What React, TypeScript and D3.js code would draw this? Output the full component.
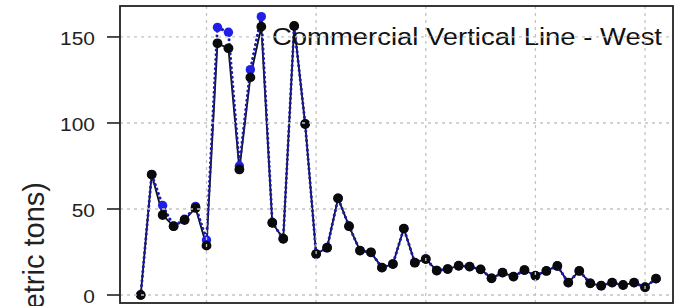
import React from "react";
import * as d3 from "d3";

const years = [1954, 1955, 1956, 1957, 1958, 1959, 1960, 1961, 1962, 1963, 1964, 1965, 1966, 1967, 1968, 1969, 1970, 1971, 1972, 1973, 1974, 1975, 1976, 1977, 1978, 1979, 1980, 1981, 1982, 1983, 1984, 1985, 1986, 1987, 1988, 1989, 1990, 1991, 1992, 1993, 1994, 1995, 1996, 1997, 1998, 1999, 2000, 2001];
const blackSeries = [0, 70, 46.5, 40, 43.6, 50.6, 28.7, 146.3, 143.4, 73, 126.5, 156, 42, 32.7, 156.4, 99.4, 23.8, 27.5, 56.2, 40, 25.8, 24.8, 15.9, 18, 38.6, 18.8, 20.9, 14.2, 15.1, 17, 16.5, 14.9, 9.7, 13, 10.7, 14.5, 11.2, 14, 16.9, 7.2, 14, 6.8, 5.4, 7.2, 5.8, 7.2, 4.5, 9.5];
const blueSeries = [0, 70, 52, 40, 44, 51.5, 32, 155.6, 152.7, 75, 131, 161.8, 42, 32.7, 156.4, 99.4, 23.8, 27.5, 56.2, 40, 25.8, 24.8, 15.9, 18, 38.6, 18.8, 20.9, 14.2, 15.1, 17, 16.5, 14.9, 9.7, 13, 10.7, 14.5, 11.2, 14, 16.9, 7.2, 14, 6.8, 5.4, 7.2, 5.8, 7.2, 4.5, 9.5];
const yTicks = [0, 50, 100, 150];
const xGrid = [1960, 1970, 1980, 1990, 2000];
const title = "Commercial Vertical Line - West";
const yLabel = "Landings (metric tons)";

const W = 677, H = 306;
const box = { left: 120, right: 673, top: 6, bottom: 303 };

export default function App() {
  const x = d3.scaleLinear().domain([1952.11, 2002.55]).range([box.left, box.right]);
  const y = d3.scaleLinear().domain([-4.65, 168]).range([box.bottom, box.top]);
  const line = d3.line<number>().x((_, i) => x(years[i])).y((d) => y(d));
  const font = "'Liberation Sans', Arial, sans-serif";
  const gridStyle = { stroke: "#c4c4c4", strokeWidth: 1.3, strokeDasharray: "3 4" };

  return (
    <svg width={W} height={H} style={{ position: "absolute", left: 0, top: 0, background: "#fff" }}>
      <rect x={0} y={0} width={W} height={H} fill="#fff" />
      <path d={line(blackSeries) || ""} fill="none" stroke="#111" strokeWidth={1.8} />
      <path d={line(blueSeries) || ""} fill="none" stroke="#1a1ab0" strokeWidth={3} strokeDasharray="0.1 4.6" strokeLinecap="round" />
      {blueSeries.map((v, i) => (
        <circle key={"b" + i} cx={x(years[i])} cy={y(v)} r={4.7} fill="#1f1fe8" />
      ))}
      {blackSeries.map((v, i) => (
        <circle key={"k" + i} cx={x(years[i])} cy={y(v)} r={4.9} fill="#0a0a0a" />
      ))}
      <text x={272} y={45} fontFamily={font} fontSize={23.5} fill="#111" textLength={390} lengthAdjust="spacingAndGlyphs">
        {title}
      </text>
      {yTicks.map((t) => (
        <line key={"gy" + t} x1={box.left} x2={box.right} y1={y(t)} y2={y(t)} {...gridStyle} />
      ))}
      {xGrid.map((t) => (
        <line key={"gx" + t} x1={x(t)} x2={x(t)} y1={box.top} y2={box.bottom} {...gridStyle} />
      ))}
      <rect x={box.left} y={box.top} width={box.right - box.left} height={box.bottom - box.top} fill="none" stroke="#222" strokeWidth={1.8} />
      {yTicks.map((t) => (
        <g key={"t" + t}>
          <line x1={107} x2={box.left} y1={y(t)} y2={y(t)} stroke="#222" strokeWidth={1.6} />
          <g transform={`translate(95,${y(t) + 7.8}) scale(1.12,1)`}>
            <text x={0} y={0} textAnchor="end" fontFamily={font} fontSize={18.7} fill="#222">
              {t}
            </text>
          </g>
        </g>
      ))}
      <text transform={`translate(43.5,182) rotate(-90)`} textAnchor="end" fontFamily={font} fontSize={29} fill="#222">
        {yLabel}
      </text>
    </svg>
  );
}
